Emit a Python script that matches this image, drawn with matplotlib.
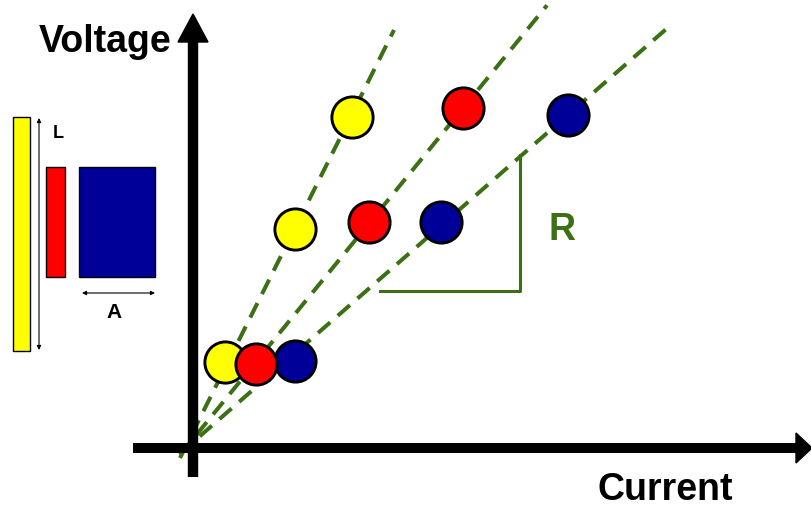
import matplotlib.pyplot as plt
from matplotlib.patches import Rectangle, Polygon

# ── Data (current / voltage, arbitrary units) ───────────────
current_yellow = [41, 111, 168]
voltage_yellow = [88, 221, 333]
current_red = [72, 185, 279]
voltage_red = [86, 228, 342]
current_blue = [111, 257, 384]
voltage_blue = [89, 228, 335]

# fitted resistance (slope V/I) and where each dashed line stops
fit_slope = [2.0, 1.225, 0.873]
fit_end = [210, 363, 483]

GREEN = "#3C7014"
YELLOW = "#FFFF00"
RED = "#FF0000"
BLUE = "#000099"

fig = plt.figure(figsize=(8.12, 5.08), dpi=100)
ax = fig.add_axes([0, 0, 1, 1])
ax.set_xlim(-184, 628)
ax.set_ylim(-58, 450)
ax.axis("off")

# ── Axes arrows ─────────────────────────────────────────────
ax.plot([9, 9], [-27, 412], color="black", lw=7.5, solid_capstyle="butt", zorder=3)
ax.add_patch(Polygon([[-6, 408], [24, 408], [9, 436]], closed=True, color="black", zorder=3))
ax.plot([-51, 615], [2, 2], color="black", lw=7.2, solid_capstyle="butt", zorder=3)
ax.add_patch(Polygon([[612, -13], [612, 17], [628, 2]], closed=True, color="black", zorder=3))

ax.text(-79, 408, "Voltage", fontsize=27, fontweight="bold", ha="center", va="center",
        family="Liberation Sans")
ax.text(481, -40, "Current", fontsize=27, fontweight="bold", ha="center", va="center",
        family="Liberation Sans")

# ── Fitted lines ────────────────────────────────────────────
for k, end in zip(fit_slope, fit_end):
    ax.plot([-4, end], [-4 * k, end * k], color=GREEN, lw=2.9,
            dashes=(4, 2.5), zorder=2)

# slope triangle + label
ax.plot([196, 336, 336], [159, 159, 295], color=GREEN, lw=2.2, zorder=2)
ax.text(378, 220, "R", fontsize=27, fontweight="bold", color=GREEN,
        ha="center", va="center", family="Liberation Sans")

# ── Measurements ────────────────────────────────────────────
kw = dict(s=880, edgecolors="black", linewidths=2.1)
ax.scatter(current_yellow, voltage_yellow, color=YELLOW, zorder=4, **kw)
ax.scatter(current_blue, voltage_blue, color=BLUE, zorder=5, **kw)
ax.scatter(current_red, voltage_red, color=RED, zorder=6, **kw)

# ── Conductor sketch (length L, area A) ─────────────────────
ax.add_patch(Rectangle((-171, 99), 17, 234, facecolor=YELLOW, edgecolor="black", lw=1))
ax.add_patch(Rectangle((-138, 173), 19, 110, facecolor=RED, edgecolor="black", lw=1))
ax.add_patch(Rectangle((-105, 173), 76, 110, facecolor=BLUE, edgecolor="black", lw=1))

ax.annotate("", xy=(-145, 332), xytext=(-145, 100),
            arrowprops=dict(arrowstyle="<|-|>", color="black", lw=0.8,
                            mutation_scale=6, shrinkA=0, shrinkB=0))
ax.annotate("", xy=(-29, 157), xytext=(-102, 157),
            arrowprops=dict(arrowstyle="<|-|>", color="black", lw=0.8,
                            mutation_scale=6, shrinkA=0, shrinkB=0))
ax.text(-126, 317, "L", fontsize=13, fontweight="bold", ha="center", va="center",
        family="Liberation Sans")
ax.text(-70, 137, "A", fontsize=15, fontweight="bold", ha="center", va="center",
        family="Liberation Sans")

fig.savefig("out.png", dpi=100, facecolor="white")
